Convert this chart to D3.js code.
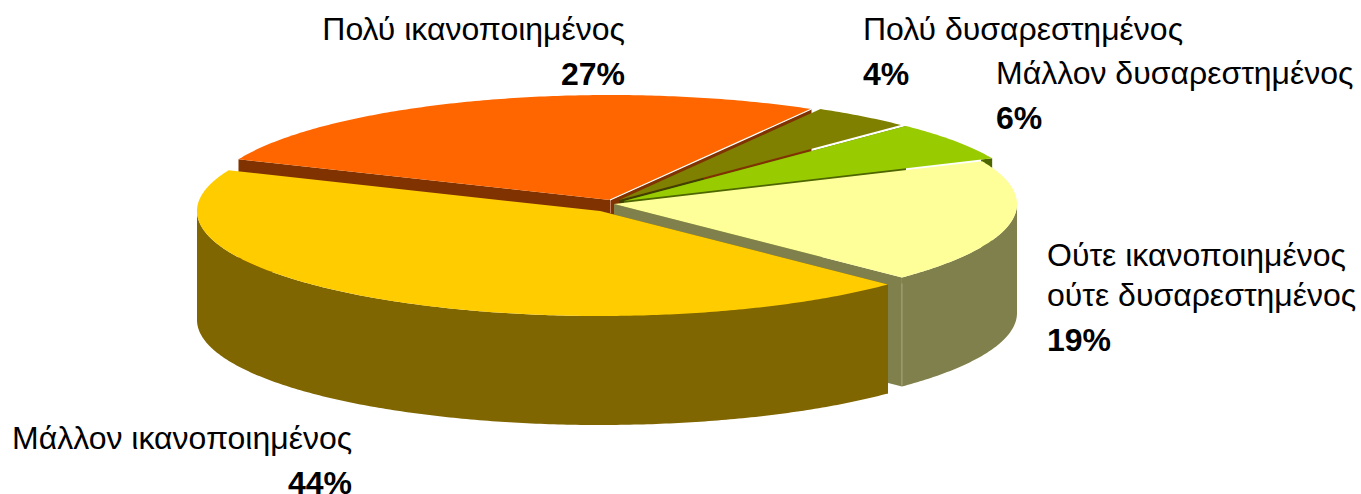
<!DOCTYPE html>
<html><head><meta charset="utf-8">
<style>html,body{margin:0;padding:0;background:#fff}svg{display:block}text{font-family:"Liberation Sans",Arial,sans-serif;fill:#000}</style>
<script src="https://cdn.jsdelivr.net/npm/d3@7"></script></head><body>
<svg id="c" width="1361" height="494"></svg>
<script>
const categories = ["Πολύ ικανοποιημένος","Πολύ δυσαρεστημένος","Μάλλον δυσαρεστημένος","Ούτε ικανοποιημένος ούτε δυσαρεστημένος","Μάλλον ικανοποιημένος"];
const values = [27,4,6,19,44];
const percentLabels = ["27%","4%","6%","19%","44%"];
const topColors = ["#ff6600","#808000","#99cc00","#ffff99","#ffcc00"];
const sideColors = ["#803300","#404000","#4d6600","#80804d","#806600"];
const apexX = [610,619,624,614,600];
const apexY = [200,200,201,204,211];
const labelLines = [[["Πολύ ικανοποιημένος",625,"end",40,0],["27%",625,"end",85,1]],
 [["Πολύ δυσαρεστημένος",863,"start",40,0],["4%",863,"start",85,1]],
 [["Μάλλον δυσαρεστημένος",996,"start",84,0],["6%",996,"start",129,1]],
 [["Ούτε ικανοποιημένος",1047,"start",266,0],["ούτε δυσαρεστημένος",1047,"start",306,0],["19%",1047,"start",351,1]],
 [["Μάλλον ικανοποιημένος",12,"start",449,0],["44%",352,"end",494,1]]];
const rx=403, ry=105, depth=109;
const startDeg=292.8;
const TAU=2*Math.PI;
const pie=d3.pie().sort(null).startAngle(startDeg*Math.PI/180).endAngle((startDeg+360)*Math.PI/180)(values);
const svg=d3.select("#c");
const xs=d3.scaleLinear().domain([-1,1]).range([-rx,rx]);
const ys=d3.scaleLinear().domain([-1,1]).range([-ry,ry]);
const px=(i,a)=>apexX[i]+xs(Math.sin(a));
const py=(i,a)=>apexY[i]-ys(Math.cos(a));
function arcPts(i,a0,a1,dy){const n=Math.max(2,Math.ceil((a1-a0)*90)),p=[];
  for(let k=0;k<=n;k++){const a=a0+(a1-a0)*k/n;p.push([px(i,a),py(i,a)+dy]);}return p;}
const line=d3.line();
const g=svg.append("g");
function poly(p,f){g.append("path").attr("d",line(p)+"Z").attr("fill",f);}
function seg(p,c,w){g.append("path").attr("d",line(p)).attr("fill","none").attr("stroke",c).attr("stroke-width",w);}
function wall(i){const d=pie[i];
  // only the front half of the rim is visible
  const a0=Math.max(d.startAngle,Math.PI/2+TAU), a1=Math.min(d.endAngle,Math.PI*1.5+TAU);
  if(a1>a0)poly(arcPts(i,a0,a1,0).concat(arcPts(i,a0,a1,depth).reverse()),sideColors[i]);
}
// cut face along the radius, from fraction f0 to f1 of the radius
function cut(i,a,f0=0,f1=1){
  const x0=apexX[i]+(px(i,a)-apexX[i])*f0,y0=apexY[i]+(py(i,a)-apexY[i])*f0;
  const x1=apexX[i]+(px(i,a)-apexX[i])*f1,y1=apexY[i]+(py(i,a)-apexY[i])*f1;
  return [[x0,y0],[x1,y1],[x1,y1+depth],[x0,y0+depth]];
}
const [orange,olive,green,pale,yellow]=[0,1,2,3,4];
poly(cut(orange,pie[orange].endAngle),sideColors[orange]);
poly(cut(orange,pie[orange].startAngle),sideColors[orange]);
poly(cut(olive,pie[olive].endAngle,0,0.3),sideColors[olive]);
poly(cut(green,pie[green].startAngle),sideColors[green]);
poly(cut(green,pie[green].endAngle,0.97,1),sideColors[green]);
poly(cut(pale,pie[pale].endAngle),sideColors[pale]);
wall(pale);
seg([[px(pale,pie[pale].endAngle),py(pale,pie[pale].endAngle)+6],[px(pale,pie[pale].endAngle),py(pale,pie[pale].endAngle)+depth-1]],"#a6a67f",1);
seg([[apexX[orange]+.5,apexY[orange]],[apexX[orange]+.5,apexY[orange]+13]],"#c08060",1);
poly(cut(yellow,pie[yellow].startAngle),sideColors[yellow]);
wall(yellow);
[0,1,2,3,4].forEach(i=>{const d=pie[i];
  poly([[apexX[i],apexY[i]]].concat(arcPts(i,d.startAngle,d.endAngle,0)),topColors[i]);});
seg([[apexX[orange],apexY[orange]],[px(orange,pie[orange].endAngle),py(orange,pie[orange].endAngle)]],"#fff",1.2);
labelLines.forEach(ls=>ls.forEach(l=>{svg.append("text").attr("x",l[1]).attr("y",l[3]).attr("text-anchor",l[2])
  .attr("font-size",32).attr("font-weight",l[4]?"bold":"normal").text(l[0]);}));
</script></body></html>
